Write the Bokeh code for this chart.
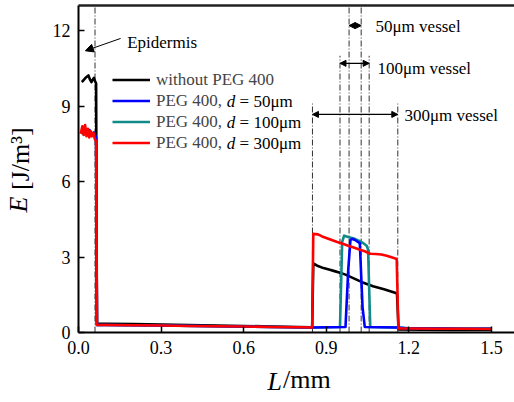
from bokeh.plotting import figure
from bokeh.models import (Label, Arrow, NormalHead, Legend, LegendItem, LinearAxis,
                          FixedTicker, Range1d)
from bokeh.embed import file_html
from bokeh.resources import INLINE

FONT = "Liberation Serif"

# ---------------- data ----------------
x_none = [0.012, 0.02, 0.028, 0.036, 0.042, 0.047, 0.052, 0.056, 0.060, 0.064,
          0.067, 0.1, 0.2, 0.3, 0.4, 0.5, 0.6, 0.7, 0.8, 0.849,
          0.853, 0.87, 0.89, 0.91, 0.93, 0.95, 0.97, 0.99, 1.01, 1.03,
          1.05, 1.07, 1.09, 1.11, 1.13, 1.15, 1.157, 1.163, 1.25, 1.35,
          1.45, 1.5]
y_none = [9.95, 10.05, 10.15, 10.22, 10.05, 9.95, 10.05, 10.12, 10.0, 9.9,
          0.36, 0.35, 0.34, 0.32, 0.3, 0.28, 0.26, 0.24, 0.22, 0.21,
          2.75, 2.64, 2.56, 2.5, 2.44, 2.38, 2.3, 2.2, 2.1, 2.0,
          1.92, 1.84, 1.78, 1.72, 1.65, 1.58, 1.55, 0.12, 0.11, 0.1,
          0.1, 0.1]

x_300 = [0.008, 0.014, 0.019, 0.024, 0.029, 0.034, 0.039, 0.044, 0.049, 0.054,
         0.059, 0.064, 0.067, 0.1, 0.2, 0.3, 0.4, 0.5, 0.6, 0.7,
         0.8, 0.849, 0.853, 0.87, 0.885, 0.9, 0.92, 0.94, 0.96, 0.98,
         1.0, 1.02, 1.04, 1.05, 1.06, 1.08, 1.1, 1.12, 1.14, 1.156,
         1.162, 1.2, 1.3, 1.4, 1.5]
y_300 = [7.9, 8.2, 7.85, 8.25, 7.8, 8.1, 7.75, 8.0, 7.8, 7.95,
         7.7, 7.6, 0.3, 0.3, 0.29, 0.28, 0.26, 0.25, 0.24, 0.22,
         0.21, 0.2, 3.92, 3.9, 3.82, 3.76, 3.68, 3.6, 3.53, 3.45,
         3.38, 3.3, 3.23, 3.18, 3.13, 3.12, 3.1, 3.05, 2.98, 2.92,
         0.16, 0.16, 0.15, 0.15, 0.14]

x_100 = [0.008, 0.016, 0.024, 0.032, 0.04, 0.048, 0.056, 0.064, 0.067, 0.1,
         0.3, 0.5, 0.7, 0.85, 0.95, 0.958, 0.965, 0.98, 1.0, 1.02,
         1.035, 1.047, 1.052, 1.06, 1.1, 1.16, 1.2, 1.3, 1.4, 1.5]
y_100 = [8.0, 7.9, 8.05, 7.95, 8.0, 7.85, 7.95, 7.7, 0.3, 0.3,
         0.28, 0.25, 0.22, 0.2, 0.22, 3.6, 3.85, 3.8, 3.74, 3.64,
         3.55, 3.45, 3.3, 0.22, 0.21, 0.2, 0.17, 0.17, 0.16, 0.16]

x_50 = [0.008, 0.016, 0.024, 0.032, 0.04, 0.048, 0.056, 0.064, 0.067, 0.1,
        0.3, 0.5, 0.7, 0.85, 0.97, 0.98, 0.988, 0.995, 1.005, 1.015,
        1.022, 1.032, 1.04, 1.1, 1.16, 1.2, 1.3, 1.4, 1.5]
y_50 = [8.0, 7.95, 8.0, 7.9, 8.05, 7.9, 7.95, 7.75, 0.3, 0.3,
        0.28, 0.25, 0.22, 0.2, 0.22, 2.5, 3.68, 3.72, 3.68, 3.6,
        3.55, 1.0, 0.22, 0.21, 0.2, 0.16, 0.16, 0.15, 0.15]

# legend texts: upright head, italic symbol, upright tail
legend_head = ["without PEG 400", "PEG 400,", "PEG 400,", "PEG 400,"]
legend_sym = ["", "d", "d", "d"]
legend_tail = ["", "= 50\u03bcm", "= 100\u03bcm", "= 300\u03bcm"]
series_colors = ["#000000", "#0000ff", "#138a8a", "#ff0000"]

x_ticks = [0.0, 0.3, 0.6, 0.9, 1.2, 1.5]
y_ticks = [0, 3, 6, 9, 12]

# axis titles: italic symbol + upright unit, each anchored at a data position
x_sym, x_sym_pos = "L", 0.713
x_unit, x_unit_pos = "/mm", 0.83
y_sym, y_sym_pos = "E", 5.09
y_unit, y_unit_pos = "[J/m\u00b3]", 6.91

epidermis_x = 0.06
vessel_names = ["50\u03bcm vessel", "100\u03bcm vessel", "300\u03bcm vessel"]
vessel_left = [0.983, 0.95, 0.85]
vessel_right = [1.027, 1.056, 1.16]
vessel_line_top = [13.0, 11.0, 9.1]
vessel_arrow_y = [12.2, 10.7, 8.67]
vessel_label_x = [1.079, 1.086, 1.184]
vessel_label_y = [12.15, 10.5, 8.63]

# ---------------- figure ----------------
p = figure(width=514, height=402, output_backend="svg", toolbar_location=None,
           x_range=Range1d(0, 1.584), y_range=Range1d(0, 13),
           min_border_left=78, min_border_right=0, min_border_top=5,
           min_border_bottom=70)
p.grid.visible = False
p.outline_line_color = None
p.background_fill_color = "white"
p.border_fill_color = "white"

for ax in (p.xaxis[0], p.yaxis[0]):
    ax.axis_line_width = 2
    ax.axis_line_color = "black"
    ax.major_tick_in = 6
    ax.major_tick_out = 0
    ax.major_tick_line_width = 1.5
    ax.minor_tick_line_color = None
    ax.major_label_text_font = FONT
    ax.major_label_text_font_size = "18px"
    ax.major_label_text_color = "black"
    ax.major_label_standoff = 8

p.xaxis.ticker = FixedTicker(ticks=x_ticks)
p.xaxis.major_label_overrides = {t: f"{t:.1f}" for t in x_ticks}
p.yaxis.ticker = FixedTicker(ticks=y_ticks)
p.yaxis.major_label_overrides = {t: str(t) for t in y_ticks}


def title_axis(side, pos, text, style, standoff, orient):
    ax = LinearAxis(ticker=FixedTicker(ticks=[pos]), major_label_overrides={pos: text},
                    axis_line_color=None, major_tick_line_color=None,
                    minor_tick_line_color=None, major_tick_in=0, major_tick_out=0,
                    major_label_standoff=standoff, major_label_text_font=FONT,
                    major_label_text_font_size="26px", major_label_text_color="black",
                    major_label_text_font_style=style, major_label_orientation=orient)
    p.add_layout(ax, side)


title_axis("below", x_unit_pos, x_unit, "normal", 8, "horizontal")
title_axis("below", x_sym_pos, x_sym, "italic", -30, "horizontal")
title_axis("left", y_unit_pos, y_unit, "normal", 14, "parallel")
title_axis("left", y_sym_pos, y_sym, "italic", -30, "parallel")

top_axis = LinearAxis(ticker=FixedTicker(ticks=[]), axis_line_width=2.5,
                      axis_line_color="#222222", major_tick_line_color=None,
                      minor_tick_line_color=None)
p.add_layout(top_axis, "above")

# vertical dash-dot guide lines
dash = "6 2 1 2"
p.segment(x0=[epidermis_x], y0=[0], x1=[epidermis_x], y1=[13.0],
          line_color="#333333", line_width=1, line_dash=dash)
p.segment(x0=vessel_left + vessel_right, y0=[0] * 6,
          x1=vessel_left + vessel_right, y1=vessel_line_top + vessel_line_top,
          line_color="#333333", line_width=1, line_dash=dash)

# data lines (drawn black, teal, blue, red)
xs = [x_none, x_50, x_100, x_300]
ys = [y_none, y_50, y_100, y_300]
renderers = [None] * 4
for i in [0, 2, 1, 3]:
    renderers[i] = p.line(xs[i], ys[i], line_color=series_colors[i], line_width=2.6,
                          line_join="round")

LEG_X, LEG_Y, ROW_H, GLYPH_W, STANDOFF = 34, 179, 21, 38, 6
legend = Legend(items=[LegendItem(label=legend_head[i], renderers=[renderers[i]])
                       for i in range(4)],
                location=(LEG_X, LEG_Y), padding=0, margin=0, spacing=0,
                label_height=ROW_H, glyph_height=ROW_H, glyph_width=GLYPH_W,
                label_standoff=STANDOFF, label_text_font=FONT,
                label_text_font_size="17px", border_line_color=None,
                background_fill_alpha=0)
p.add_layout(legend, "center")

# italic symbol and tail of the legend entries (Times metrics: 17px font)
head_w = 66.1   # width of "PEG 400,"
space_w = 4.25
sym_w = 8.5
text_x0 = LEG_X + GLYPH_W + STANDOFF
for i in range(4):
    if not legend_sym[i]:
        continue
    row_y = LEG_Y + ROW_H * (4 - i) - ROW_H / 2
    sx = text_x0 + head_w + space_w
    p.add_layout(Label(x=sx, y=row_y, x_units="screen", y_units="screen",
                       text=legend_sym[i], text_font=FONT, text_font_style="italic",
                       text_font_size="17px", text_baseline="middle", text_color="black"))
    p.add_layout(Label(x=sx + sym_w + space_w, y=row_y, x_units="screen",
                       y_units="screen", text=legend_tail[i], text_font=FONT,
                       text_font_size="17px", text_baseline="middle", text_color="black"))

# arrows
for i in range(3):
    p.add_layout(Arrow(start=NormalHead(size=6, fill_color="black", line_color="black"),
                       end=NormalHead(size=6, fill_color="black", line_color="black"),
                       x_start=vessel_left[i], y_start=vessel_arrow_y[i],
                       x_end=vessel_right[i], y_end=vessel_arrow_y[i],
                       line_width=1.2, line_color="black"))
    p.add_layout(Label(x=vessel_label_x[i], y=vessel_label_y[i], text=vessel_names[i],
                       text_font=FONT, text_font_size="17px", text_baseline="middle",
                       text_color="black"))

p.add_layout(Arrow(end=NormalHead(size=8, fill_color="black", line_color="black"),
                   x_start=0.153, y_start=11.69, x_end=0.025, y_end=11.2,
                   line_width=1, line_color="black"))
p.add_layout(Label(x=0.177, y=11.53, text="Epidermis", text_font=FONT,
                   text_font_size="17px", text_baseline="middle", text_color="black"))

open("out.html", "w").write(file_html(p, INLINE))
